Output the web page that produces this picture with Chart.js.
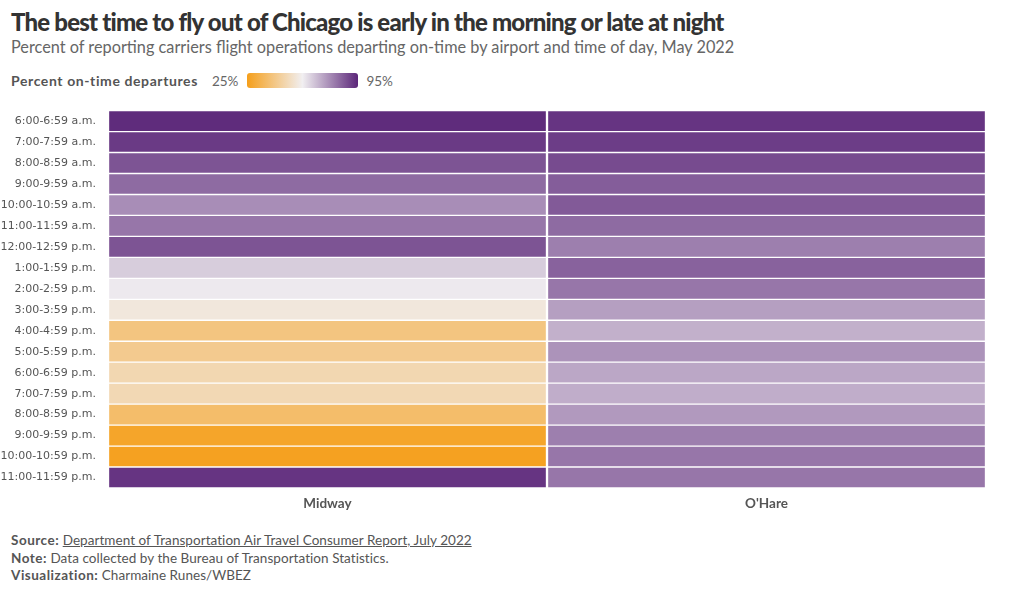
<!DOCTYPE html>
<html lang="en">
<head>
    <meta charset="UTF-8">
    <title>The best time to fly out of Chicago</title>
    <script src="https://cdn.jsdelivr.net/npm/chart.js"></script>
    <style>
        body { margin: 0; background: #fff; font-family: Lato, "Open Sans", sans-serif; color: #555; }
        .wrap { position: relative; width: 1020px; height: 596px; overflow: hidden; }
        h1 { position: absolute; left: 11px; top: 7px; margin: 0; font-size: 24px; font-weight: 900; color: #333; letter-spacing: -0.8px; white-space: nowrap; }
        .sub { position: absolute; left: 11px; top: 37px; font-size: 16.3px; color: #666; white-space: nowrap; }
        .legend { position: absolute; left: 11px; top: 72px; font-size: 13px; display: flex; align-items: center; }
        .legend b { color: #555; margin-right: 14px; font-size: 14px; letter-spacing: 0.6px; }
        .legend .ramp { width: 111px; height: 15px; border-radius: 3px; margin: 0 8px 0 9px;
            background: linear-gradient(to right, #f59f1b, #f1eff1 50%, #5b2679); }
        .legend span { color: #666; font-size: 13.5px; }
        #box { position: absolute; left: 0; top: 92px; width: 1020px; height: 428px; }
        .foot { position: absolute; left: 11px; top: 532px; font-size: 13.5px; line-height: 17.5px; color: #555; letter-spacing: 0.05px; white-space: nowrap; }
        .foot b { color: #555; letter-spacing: 0.5px; }
        .foot u { text-decoration: underline; }
    </style>
</head>
<body>
<div class="wrap">
    <h1>The best time to fly out of Chicago is early in the morning or late at night</h1>
    <div class="sub">Percent of reporting carriers flight operations departing on-time by airport and time of day, May 2022</div>
    <div class="legend"><b>Percent on-time departures</b><span>25%</span><div class="ramp"></div><span>95%</span></div>
    <div id="box"><canvas id="heat"></canvas></div>
    <div class="foot">
        <b>Source:</b> <u>Department of Transportation Air Travel Consumer Report, July 2022</u><br>
        <b>Note:</b> Data collected by the Bureau of Transportation Statistics.<br>
        <b>Visualization:</b> Charmaine Runes/WBEZ
    </div>
</div>

<script>
    // time-of-day rows, top to bottom
    const hours = [
        "6:00-6:59 a.m.", "7:00-7:59 a.m.", "8:00-8:59 a.m.", "9:00-9:59 a.m.",
        "10:00-10:59 a.m.", "11:00-11:59 a.m.", "12:00-12:59 p.m.", "1:00-1:59 p.m.",
        "2:00-2:59 p.m.", "3:00-3:59 p.m.", "4:00-4:59 p.m.", "5:00-5:59 p.m.",
        "6:00-6:59 p.m.", "7:00-7:59 p.m.", "8:00-8:59 p.m.", "9:00-9:59 p.m.",
        "10:00-10:59 p.m.", "11:00-11:59 p.m."
    ];
    const airports = ["Midway", "O'Hare"];

    // percent on-time departures
    const midway = [94, 91.5, 87, 83, 77, 81, 87, 66, 61, 56.5, 41.5, 44, 49.5, 50, 38, 27.5, 26, 92.5];
    const ohare  = [92.5, 91, 88.5, 85.5, 86, 83, 79.5, 84.5, 81, 74, 71, 76, 72.5, 71.5, 75, 79.5, 81, 81];

    const scaleMin = 25, scaleMid = 60, scaleMax = 95;
    const cLow = [245, 159, 27], cMid = [241, 239, 241], cHigh = [91, 38, 121];

    function mix(a, b, t) {
        return "rgb(" + a.map((v, i) => Math.round(v + (b[i] - v) * t)).join(",") + ")";
    }
    function colorFor(v) {
        if (v <= scaleMid) return mix(cLow, cMid, Math.max(0, (v - scaleMin) / (scaleMid - scaleMin)));
        return mix(cMid, cHigh, Math.min(1, (v - scaleMid) / (scaleMax - scaleMid)));
    }

    function column(name, values) {
        return {
            label: name,
            data: values.map(() => 1),
            pct: values,
            backgroundColor: values.map(colorFor),
            borderColor: "#ffffff",
            borderWidth: { top: 1, bottom: 1, left: 1.5, right: 1.5 },
            borderSkipped: false,
            barPercentage: 1,
            categoryPercentage: 1
        };
    }

    new Chart(document.getElementById("heat"), {
        type: "bar",
        data: {
            labels: hours,
            datasets: [column(airports[0], midway), column(airports[1], ohare)]
        },
        options: {
            indexAxis: "y",
            responsive: true,
            maintainAspectRatio: false,
            animation: false,
            layout: { padding: { left: 0, right: 34, top: 5, bottom: 0 } },
            plugins: {
                legend: { display: false },
                tooltip: {
                    callbacks: {
                        label: ctx => ctx.dataset.label + ": " + ctx.dataset.pct[ctx.dataIndex] + "%"
                    }
                }
            },
            scales: {
                x: { type: "linear", stacked: true, min: 0, max: 2, display: false },
                x2: {
                    type: "category",
                    labels: airports,
                    position: "bottom",
                    offset: true,
                    grid: { display: false, drawTicks: false },
                    border: { display: false },
                    ticks: { color: "#555", font: { family: "Lato", size: 13.5, weight: "bold" }, padding: 8 },
                    afterFit: s => { s.height = 32; }
                },
                y: {
                    stacked: true,
                    grid: { display: false, drawTicks: false },
                    border: { display: false },
                    ticks: { color: "#555", font: { family: "DejaVu Sans", size: 11 }, padding: 12 },
                    afterFit: s => { s.width = 108; }
                }
            }
        }
    });
</script>
</body>
</html>
